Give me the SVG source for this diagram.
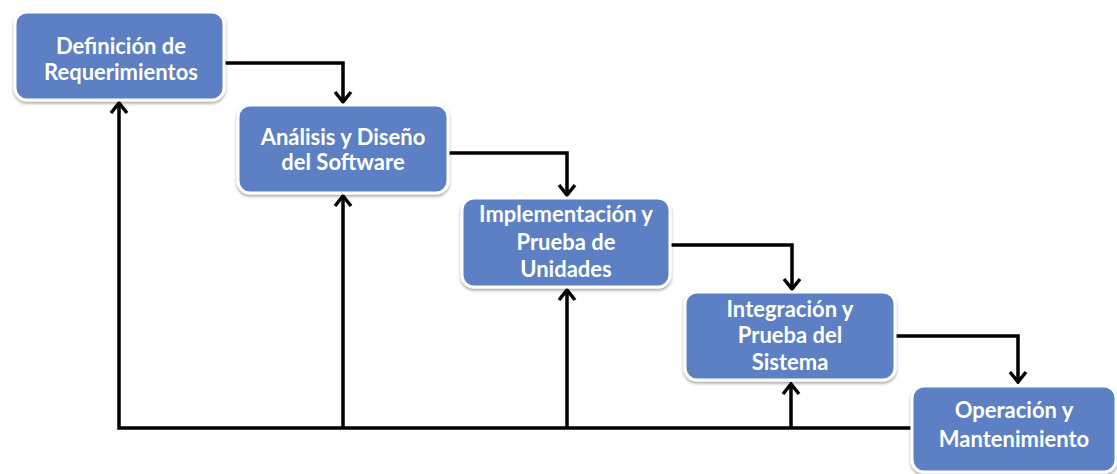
<svg xmlns="http://www.w3.org/2000/svg" width="1117" height="474" viewBox="0 0 1117 474">
  <style>
    .box { fill: #5b80c3; stroke: #ffffff; stroke-width: 3; filter: url(#shadow); }
    .label { font-family: Lato, "Open Sans", "Liberation Sans", sans-serif; font-weight: bold; font-size: 22px; fill: #ffffff; text-anchor: middle; }
    .wire { fill: none; stroke: #000000; stroke-width: 3.5; stroke-linejoin: miter; }
  </style>
  <defs>
    <filter id="shadow" x="-10%" y="-10%" width="120%" height="130%">
      <feGaussianBlur in="SourceAlpha" stdDeviation="1.5"/>
      <feOffset dx="0" dy="2" result="b"/>
      <feFlood flood-color="#000000" flood-opacity="0.35"/>
      <feComposite in2="b" operator="in"/>
      <feMerge><feMergeNode/><feMergeNode in="SourceGraphic"/></feMerge>
    </filter>
    <!-- open chevron arrowhead -->
    <marker id="arrow" viewBox="0 0 14 20" refX="12" refY="10" markerWidth="14" markerHeight="20" markerUnits="userSpaceOnUse" orient="auto">
      <path d="M2,2 L12,10 L2,18" fill="none" stroke="#000000" stroke-width="3.5" stroke-linejoin="miter"/>
    </marker>
  </defs>

  <g id="connectors">
    <!-- forward flow -->
    <path class="wire" d="M224,63 H343 V102" marker-end="url(#arrow)"/>
    <path class="wire" d="M448,153 H567 V195" marker-end="url(#arrow)"/>
    <path class="wire" d="M670,245 H792 V289" marker-end="url(#arrow)"/>
    <path class="wire" d="M895,336 H1018 V382" marker-end="url(#arrow)"/>
    <!-- feedback bus -->
    <path class="wire" d="M912,428 H119 V103" marker-end="url(#arrow)"/>
    <path class="wire" d="M343,428 V196" marker-end="url(#arrow)"/>
    <path class="wire" d="M567,428 V290" marker-end="url(#arrow)"/>
    <path class="wire" d="M791,428 V384" marker-end="url(#arrow)"/>
  </g>

  <g id="definicion">
    <rect class="box" x="15" y="12" width="209" height="88" rx="12"/>
    <text class="label" x="121" y="54">Definición de</text>
    <text class="label" x="121" y="80">Requerimientos</text>
  </g>
  <g id="analisis">
    <rect class="box" x="238" y="105" width="210" height="88" rx="12"/>
    <text class="label" x="343" y="145">Análisis y Diseño</text>
    <text class="label" x="343" y="170">del Software</text>
  </g>
  <g id="implementacion">
    <rect class="box" x="462" y="198" width="208" height="89" rx="12"/>
    <text class="label" x="566" y="222">Implementación y</text>
    <text class="label" x="566" y="250">Prueba de</text>
    <text class="label" x="566" y="277">Unidades</text>
  </g>
  <g id="integracion">
    <rect class="box" x="685" y="292" width="210" height="88" rx="12"/>
    <text class="label" x="790" y="317">Integración y</text>
    <text class="label" x="790" y="343">Prueba del</text>
    <text class="label" x="790" y="370">Sistema</text>
  </g>
  <g id="operacion">
    <rect class="box" x="912" y="386" width="204" height="86" rx="12"/>
    <text class="label" x="1014" y="418">Operación y</text>
    <text class="label" x="1014" y="447">Mantenimiento</text>
  </g>
</svg>
